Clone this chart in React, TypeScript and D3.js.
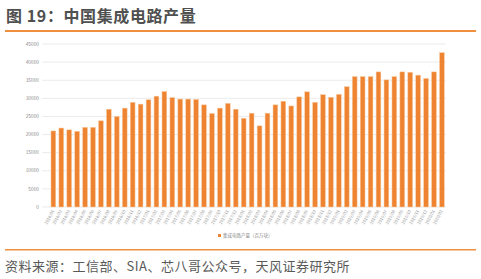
import React from "react";
import * as d3 from "d3";

const months: string[] = [];
for (let y = 2016; y <= 2020; y++) {
  for (let m = 1; m <= 12; m++) {
    if (months.length < 50) months.push(`${y}/${String(m).padStart(2, "0")}`);
  }
}
const categories = months;
const values = [
  21000, 21800, 21300, 20900, 22000, 22000, 23800, 27000, 25000, 27300,
  28900, 28400, 29600, 30600, 31900, 30200, 29800, 29800, 29700, 28200,
  25800, 27300, 28600, 27000, 24500, 25900, 22400, 25900, 28200, 29200,
  27900, 30400, 31800, 28900, 31000, 30300, 31100, 33200, 36000, 36000,
  36000, 37300, 35100, 36000, 37300, 37200, 36400, 35500, 37300, 42600,
];
const yTicks = [0, 5000, 10000, 15000, 20000, 25000, 30000, 35000, 40000, 45000];
const title = "图 19：中国集成电路产量";
const legendLabel = "集成电路产量（百万块）";
const source = "资料来源：工信部、SIA、芯八哥公众号，天风证券研究所";

const W = 481;
const H = 279;
const font = "'Noto Sans CJK SC', 'Noto Sans', sans-serif";

export default function App() {
  const x = d3.scaleBand<string>().domain(categories).range([49.4, 445.9]).paddingInner(0.4).paddingOuter(0.2);
  const y = d3.scaleLinear().domain([0, 45000]).range([207, 44]);
  return (
    <svg width={W} height={H} style={{ position: "absolute", left: 0, top: 0 }} fontFamily={font}>
      <rect width={W} height={H} fill="#fff" />
      <text x={6} y={21.5} fontSize={16} fontWeight="bold" fill="#505050" letterSpacing={0.6}>{title}</text>
      <rect x={5} y={30} width={471} height={2} fill="#F0903F" />
      {yTicks.map((t) => (
        <g key={t}>
          <line x1={42} x2={446} y1={y(t)} y2={y(t)} stroke="#EBEBEB" strokeWidth={1} />
          <text x={39} y={y(t) + 1.7} fontSize={4.8} textAnchor="end" fill="#8a8a8a">{t}</text>
        </g>
      ))}
      {categories.map((c, i) => (
        <rect
          key={c}
          x={x(c)}
          y={y(values[i])}
          width={x.bandwidth()}
          height={y(0) - y(values[i])}
          fill="#EE8431"
          stroke="#F8C9A0"
          strokeWidth={0.5}
        />
      ))}
      {categories.map((c) => {
        const cx = (x(c) ?? 0) + x.bandwidth() / 2;
        return (
          <text
            key={"l" + c}
            transform={`translate(${cx + 1},${211}) rotate(-62)`}
            fontSize={4.2}
            textAnchor="end"
            fill="#9a9a9a"
          >
            {c}
          </text>
        );
      })}
      <rect x={218} y={234} width={3} height={3} fill="#EE8431" />
      <text x={223} y={237.2} fontSize={4.5} fill="#8a8a8a">{legendLabel}</text>
      <rect x={5} y={249} width={471} height={1.5} fill="#F0903F" />
      <text x={5} y={271} fontSize={13} fill="#595959" letterSpacing={0.5}>{source}</text>
    </svg>
  );
}
